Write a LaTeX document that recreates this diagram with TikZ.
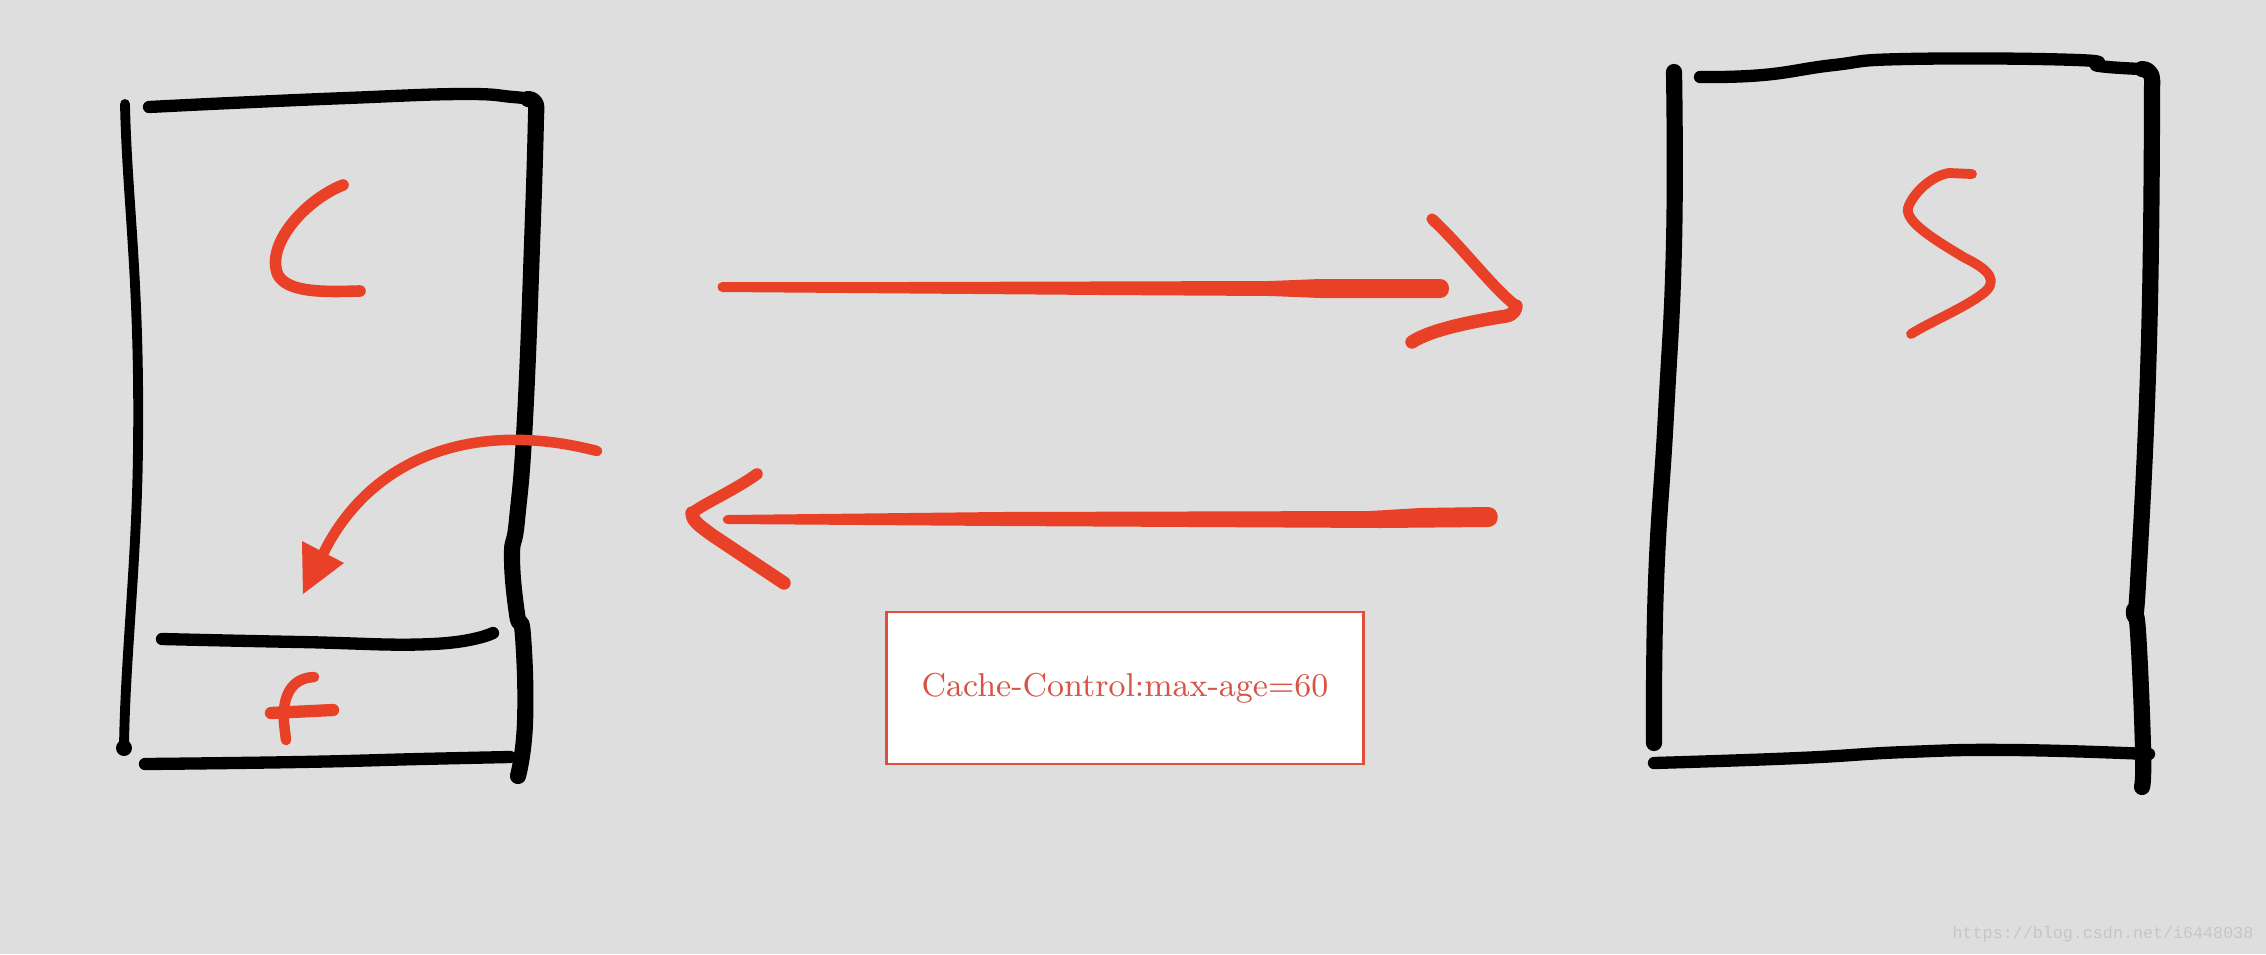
\documentclass[tikz,border=0pt]{standalone}
\usepackage{fontspec}
\newfontfamily\wmfont{Liberation Mono}
\definecolor{bg}{RGB}{222,222,222}
\definecolor{pen}{RGB}{233,65,40}
\definecolor{lbltext}{RGB}{214,84,68}
\definecolor{lblborder}{RGB}{222,78,58}
\definecolor{wm}{RGB}{198,198,198}
\tikzset{
  blkthick/.style={draw=black, line width=4.6pt, line cap=round, line join=round},
  blkmid/.style={draw=black, line width=3.5pt, line cap=round, line join=round},
  blkthin/.style={draw=black, line width=2.8pt, line cap=round, line join=round},
  redpen/.style={draw=pen, line width=3pt, line cap=round, line join=round},
  redhead/.style={draw=pen, line width=3.8pt, line cap=round, line join=round},
  lblbox/.style={draw=lblborder, line width=0.8pt, fill=white, minimum width=4.76cm, minimum height=1.52cm, inner sep=0pt, text=lbltext, font=\fontsize{9.4}{11}\selectfont},
  wmtext/.style={text=wm, font=\wmfont\fontsize{4.75}{5}\selectfont, inner sep=0pt}
}
\begin{document}
\begin{tikzpicture}[x=0.01cm, y=-0.01cm]
\fill[bg] (0,0) rectangle (2266,954);
\useasboundingbox (0,0) rectangle (2266,954);

% ---- client box (left) ----
\draw[blkthin] (125,104) .. controls (127,200) and (140,280) .. (138,447)
   .. controls (137,560) and (125,660) .. (124,748);
\fill (124,748) circle (8);
\draw[blkmid] plot[smooth, tension=0.8] coordinates {(149,107) (231,103) (347,98) (462,94) (513,97) (528,99)};
\draw[blkthick] (528,99) .. controls (536,100) and (537,104) .. (536,115)
   -- plot[smooth, tension=0.8] coordinates {(536,115) (533,217) (525,419) (517,520) (512,556) (517,614) (523,636) (525,723) (518,776)};
\draw[blkmid] plot[smooth, tension=0.8] coordinates {(145,764) (300,762) (420,759) (510,757)};
\draw[blkmid] plot[smooth, tension=0.8] coordinates {(162,639) (300,642) (433,644) (493,633)};
% letter C
\draw[redpen, line width=3.3pt] (343,185) .. controls (305,200) and (265,245) .. (278,275)
   .. controls (288,293) and (325,292) .. (360,291);
% letter f
\draw[redpen, line width=3.5pt] (271,713) -- (333,710);
\draw[redpen] (314,677) .. controls (292,678) and (282,695) .. (284,723) -- (286,740);
% curved arrow into cache
\draw[redpen] (597,451) .. controls (470,418) and (370,460) .. (324,552);
\fill[pen] (302,541) -- (344,563) -- (303,594) -- cycle;

% ---- server box (right) ----
\draw[blkthick] plot[smooth, tension=0.8] coordinates {(1674,72) (1674,244) (1666,414) (1656,583) (1654,743)};
\draw[blkmid] plot[smooth, tension=0.8] coordinates {(1700,77) (1763,75) (1834,65) (1906,59) (2077,60) (2099,66) (2142,69)};
\draw[blkthick] (2142,69) .. controls (2151,70) and (2153,75) .. (2152,88)
   -- plot[smooth, tension=0.8] coordinates {(2152,88) (2149,341) (2138,583) (2134,612) (2138,632) (2143,748) (2142,787)};
\draw[blkmid] plot[smooth, tension=0.8] coordinates {(1654,763) (1799,758) (1906,752) (2013,750) (2149,754)};
% letter S
\draw[redpen, line width=2.8pt] (1972,174) -- (1949,173) .. controls (1930,176) and (1912,195) .. (1908,208)
   .. controls (1905,222) and (1935,240) .. (1965,258)
   .. controls (1990,270) and (2000,282) .. (1981,295)
   .. controls (1960,310) and (1930,322) .. (1911,334);

% ---- request arrow (top) ----
\fill[pen] (722,282) .. controls (716,283) and (716,291) .. (722,292) -- (1100,295) -- (1270,296) -- (1320,298) -- (1440,298)
  .. controls (1452,298) and (1452,279) .. (1440,279) -- (1320,279) -- (1270,281) -- (906,282) -- cycle;
\draw[redhead, line width=3.2pt] (1432,219) .. controls (1465,250) and (1490,285) .. (1516,306);
\draw[redhead] (1516,306) .. controls (1515,315) and (1508,316) .. (1500,317)
   .. controls (1470,322) and (1430,330) .. (1412,342);

% ---- response arrow (bottom) ----
\fill[pen] (728,515) .. controls (721,516) and (721,523) .. (728,524) -- (1000,526) -- (1380,528) -- (1488,527)
  .. controls (1501,527) and (1501,507) .. (1488,507) -- (1420,508) -- (1370,511) -- (1000,512) -- cycle;
\draw[redhead, line width=3.3pt] (757,474) .. controls (735,490) and (705,503) .. (692,513);
\draw[redhead] (692,513) .. controls (692,521) and (700,526) .. (712,535) -- (784,583);

% ---- label ----
\node[lblbox] (lbl) at (1125,688) {Cache-Control:max-age=60};

% ---- watermark ----
\node[wmtext] (wmark) at (2103,934) {https://blog.csdn.net/i6448038};
\end{tikzpicture}
\end{document}
